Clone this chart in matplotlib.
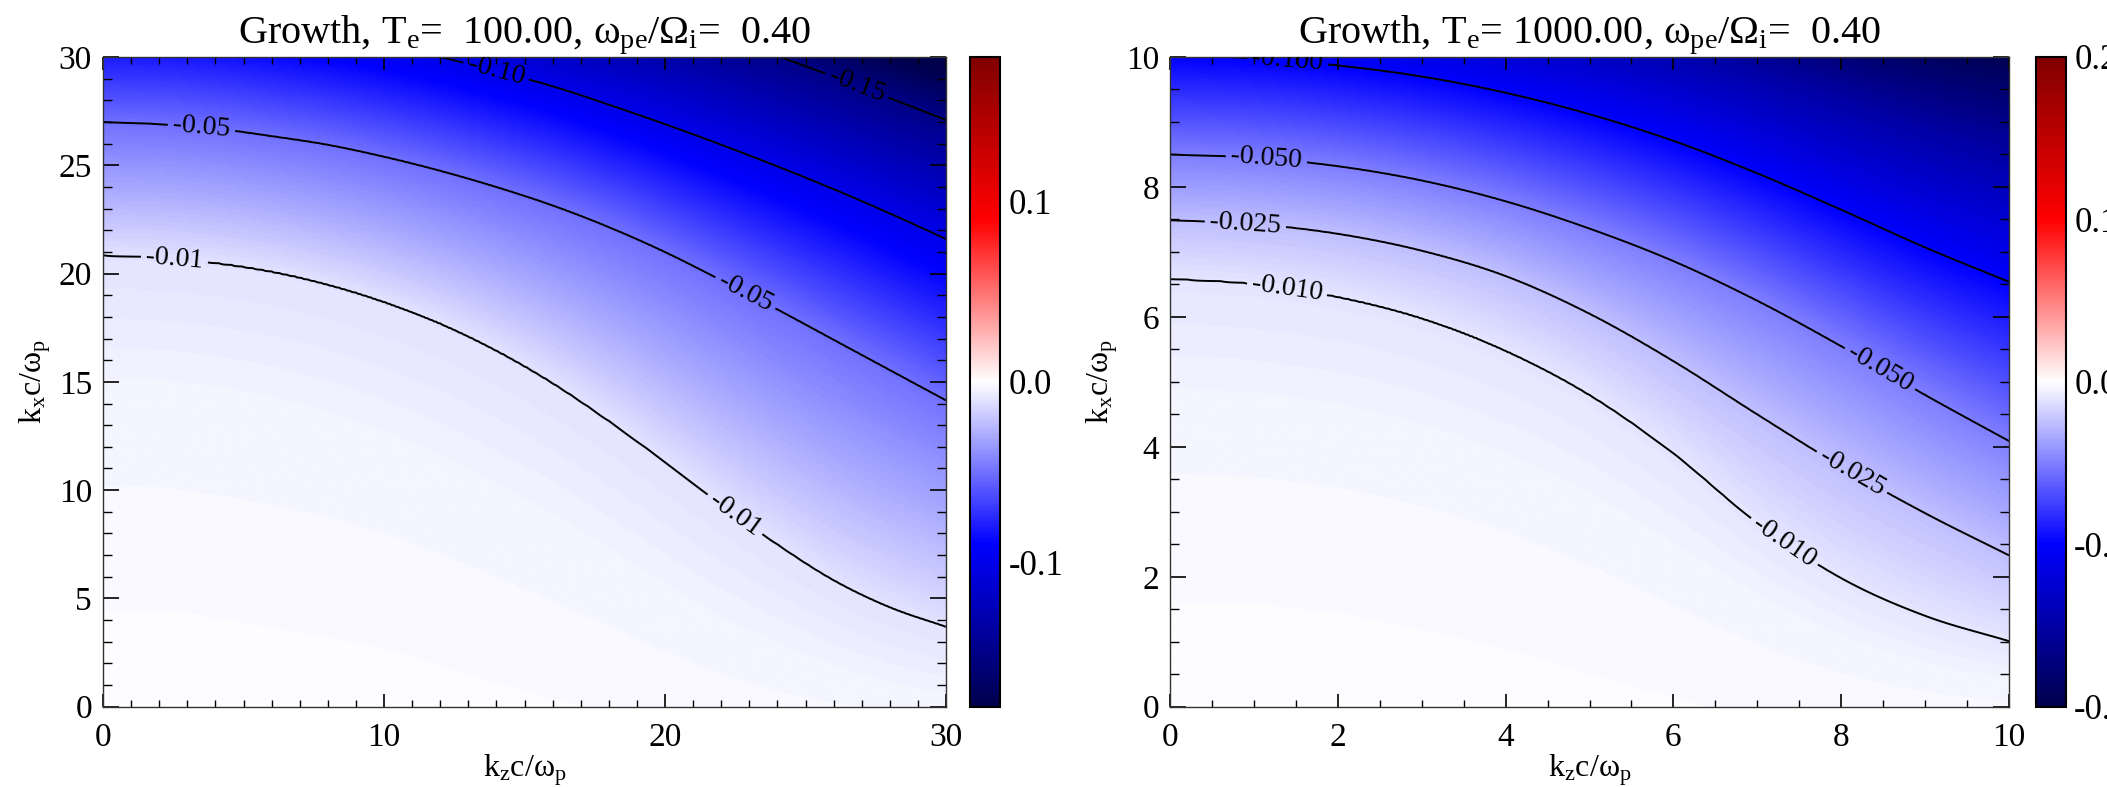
import numpy as np
import matplotlib
matplotlib.use("Agg")
import matplotlib.pyplot as plt

plt.rcParams["font.family"] = ["Liberation Serif", "DejaVu Serif"]
plt.rcParams["mathtext.fontset"] = "custom"
plt.rcParams["mathtext.rm"] = "Liberation Serif"
plt.rcParams["mathtext.it"] = "Liberation Serif:italic"
plt.rcParams["axes.unicode_minus"] = False

# ---- growth rate, Te = 100 : kx position of each growth level along kz ----
kz_left = [0, 2, 4, 6, 8, 10, 12, 14, 16, 18, 20, 22, 24, 26, 28, 30]
left_floor = [-0.0003, -0.0003, -0.0004, -0.0005, -0.0006, -0.0007, -0.0009, -0.0011,
              -0.0013, -0.0015, -0.0018, -0.0021, -0.0024, -0.0027, -0.0029, -0.0031]
left_m0004 = [15.0, 14.9, 14.6, 14.1, 13.4, 12.5, 11.4, 10.1,
              8.7, 7.1, 5.5, 4.0, 2.8, 1.8, 1.0, 0.5]
left_m001 = [20.85, 20.75, 20.5, 20.1, 19.5, 18.7, 17.7, 16.45,
             14.95, 13.2, 11.3, 9.35, 7.5, 5.85, 4.6, 3.7]
left_m005 = [27.0, 26.9, 26.7, 26.35, 25.95, 25.4, 24.75, 24.0,
             23.15, 22.15, 21.0, 19.7, 18.35, 16.95, 15.55, 14.15]
left_m010 = [32.0, 31.95, 31.75, 31.4, 31.0, 30.55, 30.0, 29.35,
             28.65, 27.8, 26.9, 25.95, 24.95, 23.9, 22.78, 21.6]
left_m015 = [35.35, 35.3, 35.2, 35.0, 34.7, 34.4, 34.0, 33.5,
             33.0, 32.45, 31.75, 30.95, 30.05, 29.1, 28.1, 27.1]
left_m020 = [38.5, 38.4, 38.2, 37.9, 37.5, 37.0, 36.4, 35.8,
             35.2, 34.6, 34.0, 33.4, 32.85, 32.25, 31.6, 30.9]

# ---- growth rate, Te = 1000 ----
kz_right = [0, 1, 2, 3, 4, 5, 6, 7, 8, 9, 10]
right_floor = [-0.0003, -0.0003, -0.0004, -0.0006, -0.0008, -0.0011,
               -0.0014, -0.0018, -0.0022, -0.0026, -0.0029]
right_m0004 = [4.7, 4.62, 4.45, 4.15, 3.7, 3.1, 2.35, 1.6, 1.0, 0.6, 0.35]
right_m0010 = [6.59, 6.51, 6.31, 5.98, 5.48, 4.8, 3.9, 2.83, 1.98, 1.4, 1.01]
right_m0025 = [7.49, 7.43, 7.28, 7.02, 6.63, 6.05, 5.32, 4.5, 3.7, 2.98, 2.33]
right_m0050 = [8.50, 8.45, 8.32, 8.10, 7.78, 7.36, 6.86, 6.25, 5.55, 4.8, 4.09]
right_m0100 = [10.03, 9.98, 9.87, 9.7, 9.45, 9.12, 8.71, 8.21, 7.65, 7.07, 6.54]
right_m0150 = [11.3, 11.25, 11.15, 11.0, 10.8, 10.52, 10.2, 9.8, 9.35, 8.9, 8.5]
right_m0200 = [12.4, 12.35, 12.25, 12.1, 11.9, 11.65, 11.35, 11.02, 10.7, 10.4, 10.15]

left_levels = [-0.15, -0.10, -0.05, -0.01]
right_levels = [-0.100, -0.050, -0.025, -0.010]


def hermite(xp, yp, x):
    # cubic Hermite through the tabulated points, slopes from finite differences
    xp = np.asarray(xp, float)
    yp = np.asarray(yp, float)
    m = np.gradient(yp, xp)
    i = np.clip(np.searchsorted(xp, x) - 1, 0, len(xp) - 2)
    h = xp[i + 1] - xp[i]
    t = (x - xp[i]) / h
    return ((2 * t**3 - 3 * t**2 + 1) * yp[i] + (t**3 - 2 * t**2 + t) * h * m[i]
            + (-2 * t**3 + 3 * t**2) * yp[i + 1] + (t**3 - t**2) * h * m[i + 1])


def growth_map(kz_pts, floor, curves, values, kz, kx):
    # each column: growth goes through the level values at the kx of each curve
    pos = [hermite(kz_pts, c, kz) for c in curves]
    g0 = np.interp(kz, kz_pts, floor)
    out = np.empty((len(kx), len(kz)))
    for j in range(len(kz)):
        xs = [0.0] + [p[j] for p in pos]
        ys = [g0[j]] + list(values)
        out[:, j] = np.interp(kx, xs, ys)
    return out


kz1 = np.linspace(0, 30, 401)
kx1 = np.linspace(0, 30, 401)
g1 = growth_map(kz_left, left_floor,
                [left_m0004, left_m001, left_m005, left_m010, left_m015, left_m020],
                [-0.004, -0.01, -0.05, -0.10, -0.15, -0.20], kz1, kx1)

kz2 = np.linspace(0, 10, 401)
kx2 = np.linspace(0, 10, 401)
g2 = growth_map(kz_right, right_floor,
                [right_m0004, right_m0010, right_m0025, right_m0050, right_m0100,
                 right_m0150, right_m0200],
                [-0.004, -0.010, -0.025, -0.050, -0.100, -0.150, -0.200], kz2, kx2)

fig = plt.figure(figsize=(21.07, 7.87), dpi=100)

panels = [
    dict(rect=[0.0489, 0.102, 0.4001, 0.8256], crect=[0.4604, 0.102, 0.0142, 0.8256],
         kz=kz1, kx=kx1, g=g1, vlim=0.18, levels=left_levels, fmt="%.2f",
         ticks=(10, 1, 5, 1), cticks=[-0.1, 0.0, 0.1],
         title=r"Growth, T$_{\rm e}$=  100.00, ω$_{\rm pe}$/Ω$_{\rm i}$=  0.40",
         labels=[(26.8, 28.6), (14.0, 29.4), (3.5, 26.7), (22.9, 19.2),
                 (2.55, 20.7), (22.5, 8.9)]),
    dict(rect=[0.5553, 0.102, 0.3982, 0.8256], crect=[0.9663, 0.102, 0.0142, 0.8256],
         kz=kz2, kx=kx2, g=g2, vlim=0.20, levels=right_levels, fmt="%.3f",
         ticks=(2, 0.5, 2, 0.5), cticks=[-0.2, -0.1, 0.0, 0.1, 0.2],
         title=r"Growth, T$_{\rm e}$= 1000.00, ω$_{\rm pe}$/Ω$_{\rm i}$=  0.40",
         labels=[(1.4, 9.95), (1.15, 8.45), (8.46, 5.2), (0.9, 7.45), (8.1, 3.55),
                 (1.4, 6.45), (7.27, 2.45)]),
]

for p in panels:
    ax = fig.add_axes(p["rect"])
    cax = fig.add_axes(p["crect"])
    kz, kx = p["kz"], p["kx"]
    im = ax.imshow(p["g"], origin="lower", extent=[kz[0], kz[-1], kx[0], kx[-1]],
                   aspect="auto", cmap="seismic", vmin=-p["vlim"], vmax=p["vlim"],
                   interpolation="bilinear")
    cs = ax.contour(kz, kx, p["g"], levels=p["levels"], colors="black",
                    linewidths=1.4, linestyles="solid")
    ax.clabel(cs, fmt=p["fmt"], inline=True, fontsize=20, manual=p["labels"])

    ax.set_xlim(kz[0], kz[-1])
    ax.set_ylim(kx[0], kx[-1])
    xmaj, xmin, ymaj, ymin = p["ticks"]
    ax.xaxis.set_major_locator(plt.MultipleLocator(xmaj))
    ax.xaxis.set_minor_locator(plt.MultipleLocator(xmin))
    ax.yaxis.set_major_locator(plt.MultipleLocator(ymaj))
    ax.yaxis.set_minor_locator(plt.MultipleLocator(ymin))
    ax.tick_params(which="both", direction="in", top=True, right=True, labelsize=24)
    ax.tick_params(axis="x", which="major", length=9.5, width=1.2, pad=11)
    ax.tick_params(axis="x", which="minor", length=5, width=1.0)
    ax.tick_params(axis="y", which="major", length=11.5, width=1.2, pad=8)
    ax.tick_params(axis="y", which="minor", length=6.5, width=1.0)
    for s in ax.spines.values():
        s.set_linewidth(1.0)
        s.set_color("#333333")
    ax.set_xlabel(r"k$_{\rm z}$c/ω$_{\rm p}$", fontsize=23, labelpad=0)
    ax.set_ylabel(r"k$_{\rm x}$c/ω$_{\rm p}$", fontsize=23, labelpad=4)
    ax.set_title(p["title"], fontsize=29, pad=2)

    cb = fig.colorbar(im, cax=cax, ticks=p["cticks"], format="%.1f")
    cb.outline.set_linewidth(1.5)
    cax.tick_params(length=0, pad=6, labelsize=25)

fig.savefig("out.png", dpi=100)
